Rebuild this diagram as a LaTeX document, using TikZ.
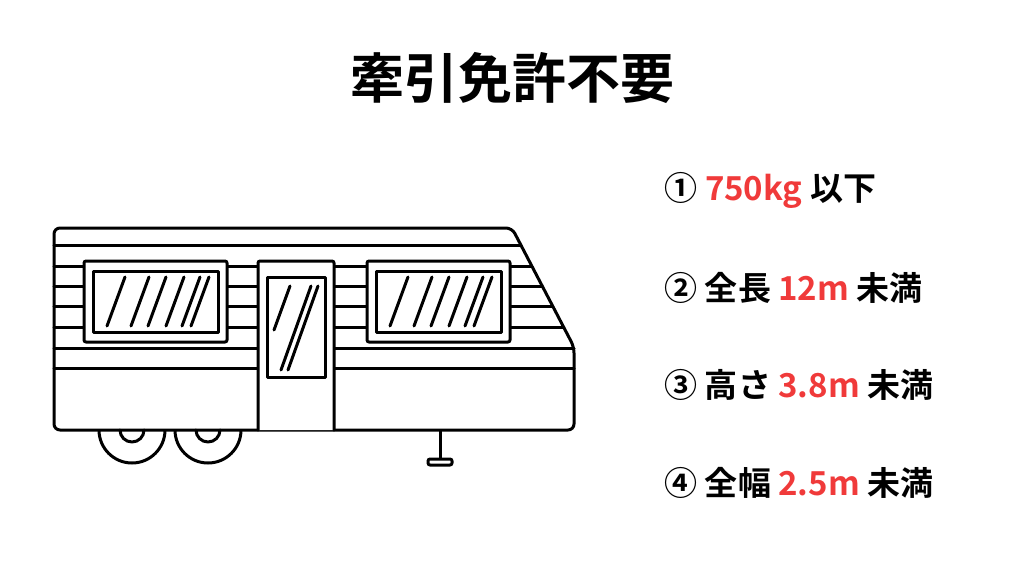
\documentclass[tikz,border=0pt]{standalone}
\usepackage{fontspec}
\newfontfamily\cjk{Noto Sans CJK JP Bold}
\definecolor{accent}{HTML}{F03A3A}
\begin{document}
\begin{tikzpicture}[x=1pt,y=-1pt,line width=3pt,
  ln/.style={draw=black,line width=3pt,line cap=round,line join=round},
  wb/.style={ln,fill=white,rounded corners=2pt},
  item/.style={anchor=west,font=\cjk\fontsize{33}{36}\selectfont,inner sep=0pt}]
\useasboundingbox (0,0) rectangle (1024,576);
\node (title) at (512,78) {\cjk\fontsize{54}{58}\selectfont 牽引免許不要};
% wheels
\foreach \cx/\nm in {132/w1,208/w2}{
  \draw[ln,fill=white] (\cx,430) circle (33);
  \coordinate (\nm) at (\cx,430);
}
% jack
\draw[ln] (440,430) -- (440,459);
\draw[ln,rounded corners=2pt,fill=white] (428,459) rectangle (452,465);
% body
\draw[ln,fill=white,rounded corners=6pt] (54,430) -- (54,228) -- (512,228) -- (574,347) -- (574,430) -- cycle;
\foreach \cx in {132,208}
  \draw[ln] (\cx-12,430) arc (180:0:12);
\foreach \y in {245.5,266,286,306.5,327}{
  \pgfmathsetmacro\xe{512+(\y-228)*62/119}
  \draw[ln] (54,\y) -- (\xe,\y);
}
\draw[ln] (54,348) -- (574,348);
\draw[ln] (54,368.5) -- (574,368.5);
% windows
\foreach \dx/\nm in {0/lw,283/rw}{
  \draw[wb] (84+\dx,261) rectangle (227+\dx,342);
  \draw[ln] (93+\dx,271) rectangle (218+\dx,332);
  \foreach \b in {107,131,148,166,182,191}
    \draw[ln] (\b+\dx,326) -- (\b+\dx+18,277);
  \coordinate (\nm) at (155+\dx,301);
}
% door
\draw[ln,fill=white,rounded corners=2pt] (258,430) -- (258,261) -- (334,261) -- (334,430);
\draw[ln] (267,277) rectangle (325,377);
\draw[ln] (274,330) -- (290,286);
\draw[ln] (281,370) -- (311,286);
\draw[ln] (288,370) -- (318,286);
% list
\node[item] (i1) at (663,190) {① \textcolor{accent}{750kg} 以下};
\node[item] (i2) at (663,288) {② 全長 \textcolor{accent}{12m} 未満};
\node[item] (i3) at (663,385) {③ 高さ \textcolor{accent}{3.8m} 未満};
\node[item] (i4) at (663,483) {④ 全幅 \textcolor{accent}{2.5m} 未満};
\end{tikzpicture}
\end{document}
